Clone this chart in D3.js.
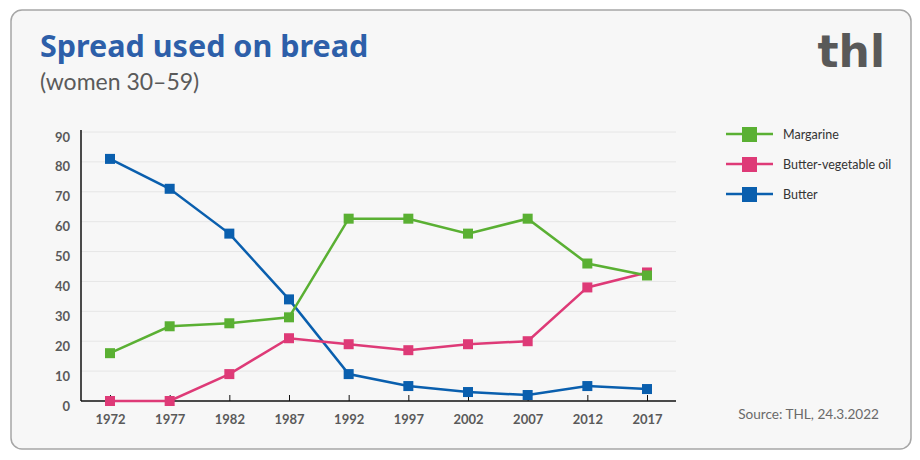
<!DOCTYPE html>
<html>
<head>
<meta charset="utf-8">
<script src="https://cdn.jsdelivr.net/npm/d3@7"></script>
<style>
  body { margin: 0; background: #fff; }
  text { font-family: "Source Sans Pro", "Lato", "Noto Sans", sans-serif; }
</style>
</head>
<body>
<svg id="chart" width="920" height="460"></svg>
<script>
// data
let years = [1972, 1977, 1982, 1987, 1992, 1997, 2002, 2007, 2012, 2017];
let margarine = [16, 25, 26, 28, 61, 61, 56, 61, 46, 42];
let butterOil = [0, 0, 9, 21, 19, 17, 19, 20, 38, 43];
let butter = [81, 71, 56, 34, 9, 5, 3, 2, 5, 4];
let yTicks = [0, 10, 20, 30, 40, 50, 60, 70, 80, 90];

let seriesNames = ["Margarine", "Butter-vegetable oil", "Butter"];
let seriesValues = [margarine, butterOil, butter];
let seriesColors = ["#5ab033", "#de3a77", "#0a5fae"];

let svg = d3.select("#chart");

// card
svg.append("rect")
    .attr("x", 11).attr("y", 10)
    .attr("width", 900).attr("height", 439)
    .attr("rx", 11)
    .attr("fill", "#f7f7f7")
    .attr("stroke", "#a6a6a6")
    .attr("stroke-width", 1.5);

svg.append("text")
    .attr("x", 40).attr("y", 57)
    .attr("font-size", 30.5)
    .attr("font-weight", 700)
    .style("font-family", "'Noto Sans'")
    .attr("fill", "#2d5fa9")
    .text("Spread used on bread");

svg.append("text")
    .attr("x", 40).attr("y", 90)
    .attr("font-size", 23)
    .attr("fill", "#5a5a5a")
    .text("(women 30\u201359)");

svg.append("text")
    .attr("x", 885).attr("y", 67)
    .attr("text-anchor", "end")
    .attr("font-size", 44)
    .attr("font-weight", 700)
    .style("font-family", "'DejaVu Sans'")
    .attr("fill", "#595959")
    .text("thl");

svg.append("text")
    .attr("x", 879).attr("y", 419)
    .attr("text-anchor", "end")
    .attr("font-size", 13.6)
    .attr("fill", "#6a6a6a")
    .text("Source: THL, 24.3.2022");

// scales
let x = d3.scalePoint()
    .domain(years)
    .range([110, 647]);

let y = d3.scaleLinear()
    .domain([0, 90])
    .range([401, 132]);

let plot = svg.append("g");

// gridlines
plot.selectAll(".grid")
    .data(yTicks.slice(1))
    .join("line")
    .attr("x1", 81).attr("x2", 676)
    .attr("y1", d => y(d)).attr("y2", d => y(d))
    .attr("stroke", "#e6e6e6")
    .attr("stroke-width", 1);

// y axis
let yAxis = plot.append("g")
    .attr("transform", "translate(81,0)")
    .call(d3.axisLeft(y).tickValues(yTicks).tickSize(0).tickPadding(11));
yAxis.select(".domain")
    .attr("d", `M0,${y(90) - 2}V${y(0)}`)
    .attr("stroke", "#111").attr("stroke-width", 1.5);
yAxis.selectAll("text")
    .attr("dy", "0.7em")
    .attr("font-size", 13)
    .attr("font-weight", 700)
    .attr("fill", "#5a5a5a");

// x axis
let xAxis = plot.append("g")
    .attr("transform", `translate(0,${y(0)})`)
    .call(d3.axisBottom(x).tickSize(-6).tickPadding(14));
xAxis.select(".domain")
    .attr("d", "M81,0H676")
    .attr("stroke", "#111").attr("stroke-width", 1.5);
xAxis.selectAll(".tick line")
    .attr("stroke", "#111");
xAxis.selectAll("text")
    .attr("font-size", 13)
    .attr("font-weight", 700)
    .attr("fill", "#5a5a5a");

// lines, drawn so Margarine ends on top
let line = d3.line()
    .x((d, i) => x(years[i]))
    .y(d => y(d));

[2, 1, 0].forEach(k => {
    let g = plot.append("g");
    g.append("path")
        .attr("d", line(seriesValues[k]))
        .attr("fill", "none")
        .attr("stroke", seriesColors[k])
        .attr("stroke-width", 2.5);
    g.selectAll("rect")
        .data(seriesValues[k])
        .join("rect")
        .attr("x", (d, i) => x(years[i]) - 5)
        .attr("y", d => y(d) - 5)
        .attr("width", 10).attr("height", 10)
        .attr("fill", seriesColors[k]);
});

// legend
let legend = svg.append("g");
seriesNames.forEach((name, i) => {
    let ly = 134 + i * 30;
    legend.append("line")
        .attr("x1", 726).attr("x2", 773)
        .attr("y1", ly).attr("y2", ly)
        .attr("stroke", seriesColors[i])
        .attr("stroke-width", 2.5);
    legend.append("rect")
        .attr("x", 742).attr("y", ly - 7)
        .attr("width", 15).attr("height", 15)
        .attr("fill", seriesColors[i]);
    legend.append("text")
        .attr("x", 783).attr("y", ly + 4.5)
        .attr("font-size", 12.5)
        .attr("fill", "#333")
        .text(name);
});
</script>
</body>
</html>
